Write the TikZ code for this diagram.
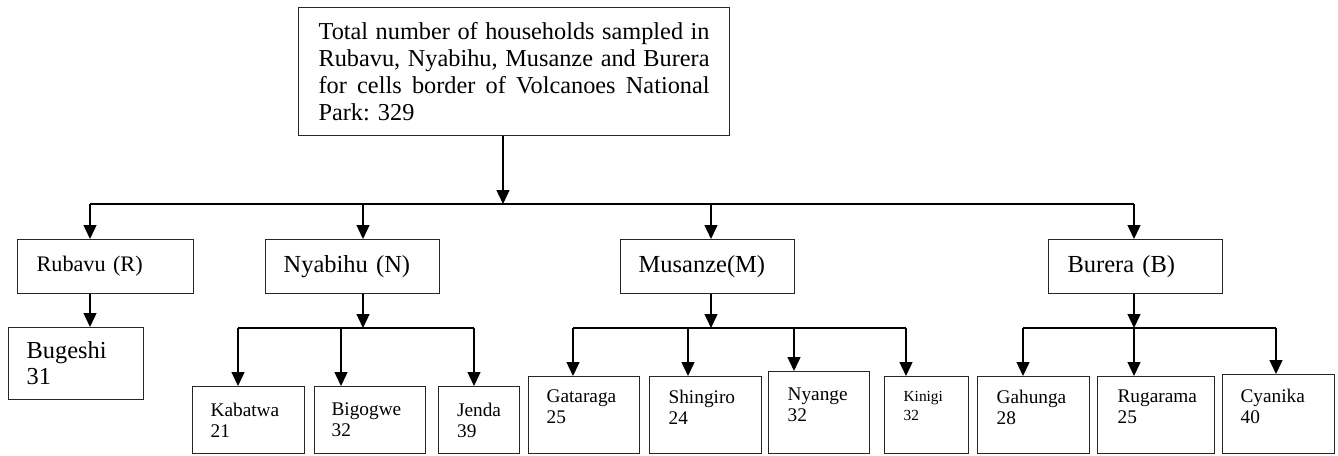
\documentclass[tikz,border=0pt]{standalone}
\usepackage{fontspec}
\setmainfont{Liberation Serif}
\usetikzlibrary{arrows.meta}
\frenchspacing
\newcommand\fullline[1]{\leavevmode\hbox to 391pt{\spaceskip=.25em plus 1fil minus .1em\relax #1}}

\begin{document}
\begin{tikzpicture}[x=1pt, y=-1pt,
      box/.style    = {draw=black!85, line width=1.2pt, anchor=north west,
                       inner sep=0pt, align=left},
      rootbox/.style = {box, minimum width=431pt, minimum height=128pt,
                       text width=391pt, font=\fontsize{24.3}{26.7}\selectfont},
      dist/.style   = {box, minimum width=174pt, minimum height=54pt,
                       text width=138pt, font=\fontsize{24.5}{26}\selectfont},
      cell/.style   = {box, font=\fontsize{19.3}{21}\selectfont},
      lowcell/.style = {cell, text depth=37pt},
      arr/.style    = {-{Triangle[length=14pt, width=13pt]}, line width=1.4pt},
      bar/.style    = {line width=1.4pt},
    ]
    \useasboundingbox (0,0) rectangle (1338,455);

    % --- Total ---
    \node[rootbox] (root) at (298,7) {%
      \fullline{Total number of households sampled in}\\
      \fullline{Rubavu, Nyabihu, Musanze and Burera}\\
      \fullline{for cells border of Volcanoes National}\\
      Park: 329};

    % --- Districts ---
    \node[dist, minimum width=176pt, font=\fontsize{22.2}{24}\selectfont] (rub) at (17,239) {Rubavu (R)};
    \node[dist] (nya) at (265,239) {Nyabihu (N)};
    \node[dist] (mus) at (620,239) {Musanze(M)};
    \node[dist, text width=136pt] (bur) at (1048,239) {Burera (B)};

    % --- Cells ---
    \node[cell, minimum width=135pt, minimum height=72pt, text width=99pt,
          font=\fontsize{24.4}{26}\selectfont] (bug) at (8,327) {Bugeshi\\31};

    \node[cell, minimum width=112pt, minimum height=67pt, text width=76pt] (kab) at (192,386) {Kabatwa\\21};
    \node[cell, minimum width=111pt, minimum height=67pt, text width=77pt] (big) at (314,386) {Bigogwe\\32};
    \node[cell, minimum width=81pt, minimum height=67pt, text width=44pt] (jen) at (438,386) {Jenda\\39};

    \node[lowcell, minimum width=111pt, minimum height=77pt, text width=75pt] (gat) at (528,376) {Gataraga\\25};
    \node[lowcell, minimum width=112pt, minimum height=77pt, text width=74pt] (shi) at (649,376) {Shingiro\\24};
    \node[lowcell, minimum width=101pt, minimum height=82pt, text width=63pt] (nyg) at (768,371) {Nyange\\32};
    \node[lowcell, minimum width=84pt, minimum height=77pt, text width=46pt,
          font=\fontsize{15.4}{19}\selectfont] (kin) at (884,376) {Kinigi\\32};

    \node[lowcell, minimum width=112pt, minimum height=77pt, text width=74pt] (gah) at (977,376) {Gahunga\\28};
    \node[lowcell, minimum width=117pt, minimum height=77pt, text width=77pt] (rug) at (1097,376) {Rugarama\\25};
    \node[lowcell, minimum width=112pt, minimum height=79pt, text width=76pt] (cya) at (1222,374) {Cyanika\\40};

    % --- Junctions ---
    \coordinate (j0) at (503,204);
    \coordinate (jR) at (90,204);
    \coordinate (jN) at (363,204);
    \coordinate (jM) at (711,204);
    \coordinate (jB) at (1134,204);

    \coordinate (nKab) at (238,328);
    \coordinate (nBig) at (341,328);
    \coordinate (nJen) at (474,328);

    \coordinate (mGat) at (573,328);
    \coordinate (mShi) at (688,328);
    \coordinate (mNyg) at (794,328);
    \coordinate (mKin) at (906,328);

    \coordinate (bGah) at (1023,328);
    \coordinate (bRug) at (1134,328);
    \coordinate (bCya) at (1276,328);

    % total -> districts
    \draw[arr] (j0 |- root.south) -- (j0);
    \draw[bar] (jR) -- (jB);
    \foreach \j/\n in {jR/rub, jN/nya, jM/mus, jB/bur}
      \draw[arr] (\j) -- (\j |- \n.north);

    % Rubavu
    \draw[arr] (jR |- rub.south) -- (jR |- bug.north);

    % Nyabihu
    \draw[arr] (jN |- nya.south) -- (jN |- nKab);
    \draw[bar] (nKab) -- (nJen);
    \foreach \c/\n in {nKab/kab, nBig/big, nJen/jen}
      \draw[arr] (\c) -- (\c |- \n.north);

    % Musanze
    \draw[arr] (jM |- mus.south) -- (jM |- mGat);
    \draw[bar] (mGat) -- (mKin);
    \foreach \c/\n in {mGat/gat, mShi/shi, mNyg/nyg, mKin/kin}
      \draw[arr] (\c) -- (\c |- \n.north);

    % Burera
    \draw[arr] (jB |- bur.south) -- (bRug);
    \draw[bar] (bGah) -- (bCya);
    \foreach \c/\n in {bGah/gah, bRug/rug, bCya/cya}
      \draw[arr] (\c) -- (\c |- \n.north);

\end{tikzpicture}
\end{document}
